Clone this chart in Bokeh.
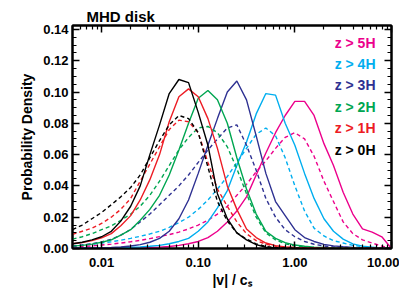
from bokeh.plotting import figure
from bokeh.models import Range1d, FixedTicker, LinearAxis, LogAxis, PrintfTickFormatter, Label
from bokeh.embed import file_html
from bokeh.resources import INLINE

# |v|/c_s grid (log-spaced)
v = [0.00501, 0.00631, 0.00794, 0.01, 0.0126, 0.0158, 0.02, 0.0251, 0.0316, 0.0398,
     0.0501, 0.0631, 0.0794, 0.1, 0.126, 0.158, 0.2, 0.251, 0.316, 0.398,
     0.501, 0.631, 0.794, 1.0, 1.26, 1.58, 2.0, 2.51, 3.16, 3.98,
     5.01, 6.31, 7.94, 10.0]

z0_solid = [0.003, 0.004, 0.0055, 0.0075, 0.011, 0.0175, 0.027, 0.040, 0.060, 0.079,
            0.099, 0.108, 0.106, 0.087, 0.066, 0.035, 0.019, 0.010, 0.0055, 0.0025,
            0.0008, 0.0004, 0.0002, 0.0001, 0.0001, 0.0, 0, 0, 0, 0, 0, 0, 0, 0]
z0_dash = [0.012, 0.015, 0.019, 0.023, 0.028, 0.033, 0.039, 0.047, 0.058, 0.069,
           0.079, 0.085, 0.083, 0.074, 0.052, 0.030, 0.0175, 0.010, 0.006, 0.003,
           0.0013, 0.0006, 0.0003, 0.0002, 0.0001, 0.0001, 0, 0, 0, 0, 0, 0, 0, 0]
z1_solid = [0.003, 0.0038, 0.005, 0.0068, 0.0095, 0.0145, 0.021, 0.031, 0.044, 0.060,
            0.081, 0.097, 0.102, 0.097, 0.083, 0.064, 0.040, 0.025, 0.0125, 0.007,
            0.0035, 0.0018, 0.001, 0.0006, 0.0004, 0.0003, 0.0002, 0.0001, 0, 0, 0, 0, 0, 0]
z1_dash = [0.009, 0.011, 0.013, 0.016, 0.020, 0.025, 0.032, 0.043, 0.054, 0.065,
           0.076, 0.082, 0.081, 0.074, 0.055, 0.038, 0.027, 0.017, 0.0095, 0.005,
           0.0028, 0.0015, 0.0008, 0.0005, 0.0003, 0.0002, 0.0001, 0, 0, 0, 0, 0, 0, 0]
z2_solid = [0.0015, 0.002, 0.0028, 0.004, 0.0055, 0.0085, 0.012, 0.018, 0.025, 0.034,
            0.047, 0.063, 0.080, 0.096, 0.101, 0.095, 0.080, 0.058, 0.038, 0.022,
            0.011, 0.0065, 0.0038, 0.0022, 0.0014, 0.0009, 0.0006, 0.0004, 0.0003, 0.0002,
            0.0001, 0.0001, 0.0001, 0.0]
z2_dash = [0.006, 0.0075, 0.0095, 0.012, 0.0145, 0.018, 0.022, 0.027, 0.034, 0.043,
           0.053, 0.063, 0.071, 0.077, 0.078, 0.074, 0.065, 0.051, 0.035, 0.020,
           0.010, 0.0055, 0.003, 0.0017, 0.001, 0.0006, 0.0004, 0.0003, 0.0002, 0.0001,
           0, 0, 0, 0]
z3_solid = [0.0002, 0.0003, 0.0004, 0.0005, 0.0007, 0.001, 0.0016, 0.0025, 0.004, 0.0065,
            0.011, 0.019, 0.031, 0.048, 0.066, 0.083, 0.100, 0.107, 0.095, 0.072,
            0.048, 0.030, 0.021, 0.012, 0.007, 0.0045, 0.0026, 0.0017, 0.0011, 0.0007,
            0.0004, 0.0003, 0.0002, 0.0]
z3_dash = [0.0015, 0.0022, 0.003, 0.0042, 0.0058, 0.0085, 0.0122, 0.017, 0.022, 0.028,
           0.034, 0.040, 0.047, 0.055, 0.063, 0.070, 0.077, 0.079, 0.066, 0.050,
           0.032, 0.020, 0.012, 0.0075, 0.0045, 0.0027, 0.0016, 0.001, 0.0007, 0.0004,
           0.0003, 0.0002, 0.0001, 0.0]
z4_solid = [0.0001, 0.0001, 0.0002, 0.0003, 0.0004, 0.0005, 0.0007, 0.001, 0.0014, 0.002,
            0.003, 0.0045, 0.0065, 0.011, 0.017, 0.026, 0.037, 0.053, 0.068, 0.086,
            0.099, 0.098, 0.080, 0.066, 0.048, 0.032, 0.019, 0.011, 0.006, 0.003,
            0.0015, 0.0008, 0.0004, 0.0]
z4_dash = [0.0017, 0.0022, 0.0028, 0.0035, 0.0043, 0.0053, 0.0065, 0.0078, 0.0093, 0.011,
           0.0135, 0.0165, 0.020, 0.025, 0.031, 0.038, 0.046, 0.055, 0.064, 0.073,
           0.077, 0.072, 0.058, 0.040, 0.024, 0.013, 0.008, 0.005, 0.0035, 0.002,
           0.0012, 0.0007, 0.0003, 0.0]
z5_solid = [0.0001, 0.0001, 0.0001, 0.0001, 0.0002, 0.0002, 0.0003, 0.0004, 0.0006, 0.0009,
            0.0013, 0.002, 0.003, 0.0045, 0.007, 0.011, 0.017, 0.024, 0.033, 0.047,
            0.061, 0.074, 0.085, 0.094, 0.094, 0.085, 0.067, 0.053, 0.036, 0.022,
            0.0125, 0.0105, 0.0075, 0.0]
z5_dash = [0.001, 0.0013, 0.0017, 0.0022, 0.0028, 0.0035, 0.0043, 0.0052, 0.0063, 0.0076,
           0.0089, 0.0105, 0.0125, 0.015, 0.018, 0.022, 0.027, 0.034, 0.041, 0.049,
           0.056, 0.064, 0.071, 0.074, 0.070, 0.059, 0.043, 0.030, 0.017, 0.0095,
           0.0055, 0.0035, 0.0015, 0.0]

labels = ["z > 5H", "z > 4H", "z > 3H", "z > 2H", "z > 1H", "z > 0H"]
colors = ["#ec008c", "#00aeef", "#2e3192", "#00a651", "#ed1c24", "#000000"]
solids = [z5_solid, z4_solid, z3_solid, z2_solid, z1_solid, z0_solid]
dashes = [z5_dash, z4_dash, z3_dash, z2_dash, z1_dash, z0_dash]

y_ticks = [0.0, 0.02, 0.04, 0.06, 0.08, 0.10, 0.12, 0.14]
x_ticks = [0.01, 0.1, 1.0, 10.0]

FONT = "Liberation Sans"

p = figure(width=399, height=292, x_axis_type="log",
           x_range=Range1d(0.005, 10), y_range=Range1d(0, 0.1425),
           output_backend="svg", toolbar_location=None,
           min_border_left=72, min_border_right=8, min_border_top=25, min_border_bottom=44)
p.xgrid.visible = False
p.ygrid.visible = False
p.outline_line_color = "black"
p.outline_line_width = 2
p.background_fill_color = "white"
p.border_fill_color = "white"

p.title.text = "MHD disk"
p.title.align = "left"
p.title.offset = 14
p.title.standoff = 2
p.title.text_color = "black"
p.title.text_font = FONT
p.title.text_font_style = "bold"
p.title.text_font_size = "15px"

for col, ys, yd in zip(colors, solids, dashes):
    p.line(v, yd, line_color=col, line_width=1.4, line_dash="4 3")
    p.line(v, ys, line_color=col, line_width=1.4)

x_minor = [m * d for d in [0.001, 0.01, 0.1, 1.0] for m in range(2, 10) if 0.005 <= m * d <= 10]
y_minor = [i * 0.005 for i in range(0, 29)]

def style(ax, labels_on=True):
    ax.axis_line_width = 2
    ax.major_tick_in = 7
    ax.major_tick_out = 0
    ax.minor_tick_in = 4
    ax.minor_tick_out = 0
    ax.major_tick_line_width = 1.5
    ax.minor_tick_line_width = 1.2
    if labels_on:
        ax.major_label_text_font = FONT
        ax.major_label_text_font_style = "bold"
        ax.major_label_text_font_size = "13px"
        ax.major_label_text_color = "black"
        ax.axis_label_text_font = FONT
        ax.axis_label_text_font_style = "bold"
        ax.axis_label_text_font_size = "14px"
        ax.axis_label_text_color = "black"
    else:
        ax.major_label_text_font_size = "1px"
        ax.major_label_text_alpha = 0
        ax.major_label_standoff = 0

xax = p.xaxis[0]
xax.ticker = FixedTicker(ticks=x_ticks, minor_ticks=x_minor)
xax.formatter = PrintfTickFormatter(format="%.2f")
style(xax)
xax.major_label_standoff = 9
xax.axis_label = "|v| / c\u209b"
xax.axis_label_standoff = 2

yax = p.yaxis[0]
yax.ticker = FixedTicker(ticks=y_ticks, minor_ticks=y_minor)
yax.formatter = PrintfTickFormatter(format="%.2f")
style(yax)
yax.major_label_standoff = 4
yax.axis_label = "Probability Density"
yax.axis_label_standoff = 5

top = LogAxis(ticker=FixedTicker(ticks=x_ticks, minor_ticks=x_minor))
style(top, labels_on=False)
p.add_layout(top, "above")
right = LinearAxis(ticker=FixedTicker(ticks=y_ticks, minor_ticks=y_minor))
style(right, labels_on=False)
p.add_layout(right, "right")

for i, (lab, col) in enumerate(zip(labels, colors)):
    p.add_layout(Label(x=10, y=0.1425, x_offset=-16, y_offset=-(17 + 21.4 * i), text=lab,
                       text_color=col, text_font=FONT, text_font_style="bold",
                       text_font_size="14px", text_baseline="middle", text_align="right"))

open("out.html", "w").write(file_html(p, INLINE))
